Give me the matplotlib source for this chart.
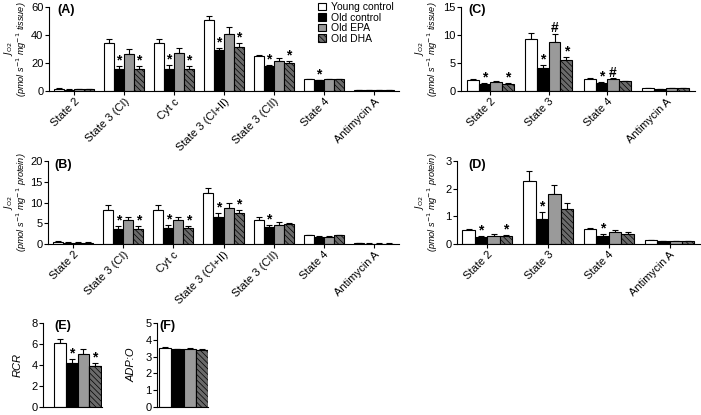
import numpy as np
import matplotlib
matplotlib.use("Agg")
import matplotlib.pyplot as plt
from matplotlib.patches import Patch

plt.rcParams['font.family'] = ['Liberation Sans', 'DejaVu Sans']
plt.rcParams['hatch.linewidth'] = 0.5
plt.rcParams['font.size'] = 8
plt.rcParams['mathtext.default'] = 'it'

groups = ['Young control', 'Old control', 'Old EPA', 'Old DHA']
cats_ab = ['State 2', 'State 3 (CI)', 'Cyt c', 'State 3 (CI+II)', 'State 3 (CII)',
           'State 4', 'Antimycin A']
cats_cd = ['State 2', 'State 3', 'State 4', 'Antimycin A']

# panel A: tissue-normalised, rows = groups, cols = states
a_mean = [[1.7, 34.0, 34.0, 50.5, 25.2, 8.3, 0.5],
          [1.0, 15.5, 16.0, 29.0, 17.9, 7.6, 0.4],
          [1.5, 26.7, 27.4, 41.0, 21.7, 8.3, 0.4],
          [1.2, 15.5, 16.0, 31.7, 20.0, 8.3, 0.4]]
a_err = [[0.2, 3.4, 3.4, 3.3, 0.8, 0.3, 0.1],
         [0.2, 2.4, 2.8, 1.7, 0.9, 0.5, 0.1],
         [0.2, 3.5, 3.3, 4.5, 2.1, 0.2, 0.1],
         [0.2, 2.4, 2.0, 2.3, 1.2, 0.2, 0.1]]
a_sig = [['', '', '', '', '', '', ''],
         ['', '*', '*', '*', '*', '*', ''],
         ['', '', '', '', '', '', ''],
         ['', '*', '*', '*', '*', '', '']]

# panel B: protein-normalised
b_mean = [[0.6, 8.2, 8.2, 12.2, 5.8, 2.1, 0.15],
          [0.35, 3.6, 3.8, 6.5, 4.1, 1.8, 0.12],
          [0.35, 5.7, 5.7, 8.6, 4.6, 1.8, 0.12],
          [0.35, 3.6, 3.8, 7.4, 4.8, 2.1, 0.12]]
b_err = [[0.1, 1.2, 1.2, 1.4, 0.7, 0.1, 0.05],
         [0.05, 0.8, 0.8, 0.9, 0.4, 0.1, 0.05],
         [0.05, 0.8, 0.9, 1.2, 0.8, 0.1, 0.05],
         [0.05, 0.8, 0.6, 0.8, 0.2, 0.1, 0.05]]
b_sig = [['', '', '', '', '', '', ''],
         ['', '*', '*', '*', '*', '', ''],
         ['', '', '', '', '', '', ''],
         ['', '*', '*', '*', '', '', '']]

# panel C: tissue-normalised
c_mean = [[2.0, 9.3, 2.2, 0.55],
          [1.2, 4.1, 1.5, 0.35],
          [1.6, 8.75, 2.1, 0.45],
          [1.3, 5.5, 1.7, 0.45]]
c_err = [[0.1, 1.1, 0.1, 0.05],
         [0.2, 0.6, 0.1, 0.05],
         [0.1, 1.45, 0.2, 0.05],
         [0.2, 0.6, 0.1, 0.05]]
c_sig = [['', '', '', ''],
         ['*', '*', '*', ''],
         ['', '#', '#', ''],
         ['*', '*', '', '']]

# panel D: protein-normalised
d_mean = [[0.49, 2.28, 0.53, 0.14],
          [0.26, 0.92, 0.30, 0.10],
          [0.30, 1.79, 0.44, 0.10],
          [0.30, 1.26, 0.38, 0.11]]
d_err = [[0.05, 0.35, 0.06, 0.02],
         [0.02, 0.22, 0.05, 0.01],
         [0.06, 0.36, 0.08, 0.01],
         [0.04, 0.22, 0.04, 0.01]]
d_sig = [['', '', '', ''],
         ['*', '*', '*', ''],
         ['', '', '', ''],
         ['*', '', '', '']]

rcr_mean = [6.05, 4.2, 5.0, 3.9]
rcr_err = [0.4, 0.35, 0.5, 0.3]
rcr_sig = ['', '*', '', '*']

adp_mean = [3.52, 3.45, 3.45, 3.42]
adp_err = [0.07, 0.03, 0.05, 0.03]

faces = ['white', 'black', '#9a9a9a', '#6a6a6a']
hatches = [None, None, None, '\\\\\\\\\\\\']

ylab = '$J_{\\mathrm{O2}}$\n(pmol s$^{-1}$ mg$^{-1}$ %s)'

fig = plt.figure(figsize=(7.01, 4.15), dpi=100)


def style(ax, label, lx):
    ax.spines['top'].set_visible(False)
    ax.spines['right'].set_visible(False)
    ax.tick_params(direction='out', length=3, width=0.8, labelsize=8, pad=1)
    ax.text(lx, 1.03, label, transform=ax.transAxes, fontweight='bold',
            fontsize=9, va='top', ha='left')


def grouped(ax, cats, mean, err, sig, width):
    x = np.arange(len(cats))
    for g in range(4):
        pos = x + (g - 1.5) * width
        ax.bar(pos, mean[g], width, color=faces[g], edgecolor='black',
               linewidth=0.8, hatch=hatches[g], zorder=2)
        ax.errorbar(pos, mean[g], yerr=[np.zeros(len(cats)), err[g]], fmt='none',
                    ecolor='black', elinewidth=0.8, capsize=2.5, capthick=0.8, zorder=1)
        for i in range(len(cats)):
            if sig[g][i]:
                ax.annotate(sig[g][i], (pos[i], mean[g][i] + err[g][i]),
                            xytext=(0, -1), textcoords='offset points',
                            ha='center', va='bottom', fontsize=10, fontweight='bold')
    ax.set_xticks(x)
    ax.set_xticklabels(cats, rotation=45, ha='right', rotation_mode='anchor', fontsize=7.5)
    ax.set_xlim(-0.5, len(cats) - 0.5)


def jlabel(ax, what, xr):
    ax.set_ylabel(ylab % what, fontstyle='italic', fontsize=6.6, linespacing=0.95)
    ax.yaxis.set_label_coords(xr, 0.5)


axA = fig.add_axes([0.0699, 0.7807, 0.4993, 0.2024])
grouped(axA, cats_ab, a_mean, a_err, a_sig, 0.2)
axA.set_ylim(0, 60)
axA.set_yticks([0, 20, 40, 60])
jlabel(axA, 'tissue', -0.058)
style(axA, '(A)', 0.023)

axB = fig.add_axes([0.0685, 0.412, 0.5007, 0.2])
grouped(axB, cats_ab, b_mean, b_err, b_sig, 0.2)
axB.set_ylim(0, 20)
axB.set_yticks([0, 5, 10, 15, 20])
jlabel(axB, 'protein', -0.055)
style(axB, '(B)', 0.017)

axC = fig.add_axes([0.6576, 0.7807, 0.3338, 0.2024])
grouped(axC, cats_cd, c_mean, c_err, c_sig, 0.2)
axC.set_ylim(0, 15)
axC.set_yticks([0, 5, 10, 15])
jlabel(axC, 'tissue', -0.09)
style(axC, '(C)', 0.03)

axD = fig.add_axes([0.6519, 0.412, 0.3466, 0.2])
grouped(axD, cats_cd, d_mean, d_err, d_sig, 0.205)
axD.set_ylim(0, 3)
axD.set_yticks([0, 1, 2, 3])
jlabel(axD, 'protein', -0.07)
style(axD, '(D)', 0.045)


def single(ax, mean, err, sig, lo, hi):
    x = np.arange(4)
    ax.bar(x, mean, 1.0, color=faces, edgecolor='black', linewidth=0.8,
           hatch=None, zorder=2)
    ax.bar(x[3], mean[3], 1.0, color=faces[3], edgecolor='black', linewidth=0.8,
           hatch=hatches[3], zorder=2)
    ax.errorbar(x, mean, yerr=[np.zeros(4), err], fmt='none', ecolor='black',
                elinewidth=0.8, capsize=2.5, capthick=0.8, zorder=1)
    for i in range(4):
        if sig[i]:
            ax.annotate(sig[i], (x[i], mean[i] + err[i]), xytext=(0, -1),
                        textcoords='offset points', ha='center', va='bottom',
                        fontsize=10, fontweight='bold')
    ax.set_xlim(lo, hi)
    ax.set_xticks([])


axE = fig.add_axes([0.0613, 0.0193, 0.0842, 0.2024])
single(axE, rcr_mean, rcr_err, rcr_sig, -1.44, 3.58)
axE.set_ylim(0, 8)
axE.set_yticks([0, 2, 4, 6, 8])
axE.set_ylabel('RCR', fontstyle='italic', fontsize=8, labelpad=6)
style(axE, '(E)', 0.19)

axF = fig.add_axes([0.224, 0.0193, 0.0728, 0.2024])
single(axF, adp_mean, adp_err, ['', '', '', ''], -0.66, 3.5)
axF.set_ylim(0, 5)
axF.set_yticks([0, 1, 2, 3, 4, 5])
axF.set_ylabel('ADP:O', fontstyle='italic', fontsize=8, labelpad=6)
style(axF, '(F)', 0.04)

handles = [Patch(facecolor=faces[i], edgecolor='black', hatch=hatches[i], linewidth=0.8)
           for i in range(4)]
fig.legend(handles, groups, loc='upper left', bbox_to_anchor=(0.448, 1.005),
           frameon=False, fontsize=7.5, handlelength=0.75, handleheight=0.75,
           handletextpad=0.5, labelspacing=0.05, borderaxespad=0.2, borderpad=0.2)

fig.savefig('out.png', dpi=100)
